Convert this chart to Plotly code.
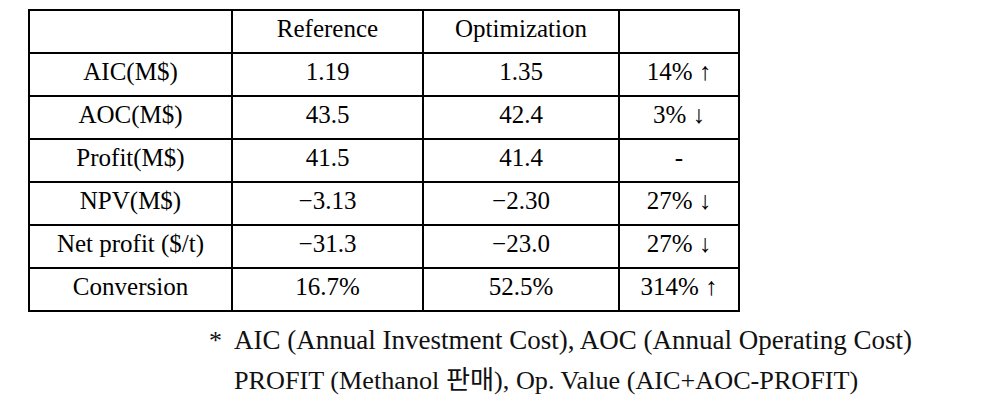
import plotly.graph_objects as go

# page body has an 8px margin, so the figure is placed at (8, 8) in the window
OFF = 8
W, H = 990 - 2 * OFF, 411 - 2 * OFF

header = ["", "Reference", "Optimization", ""]
row_labels = ["AIC(M$)", "AOC(M$)", "Profit(M$)", "NPV(M$)", "Net profit ($/t)", "Conversion"]
reference_vals = ["1.19", "43.5", "41.5", "\u22123.13", "\u221231.3", "16.7%"]
optimization_vals = ["1.35", "42.4", "41.4", "\u22122.30", "\u221223.0", "52.5%"]
change_vals = ["14% \u2191", "3% \u2193", "-", "27% \u2193", "27% \u2193", "314% \u2191"]

footnote_line1 = "AIC (Annual Investment Cost), AOC (Annual Operating Cost)"
footnote_line2 = "PROFIT (Methanol 판매), Op. Value (AIC+AOC-PROFIT)"

FONT = "Liberation Serif, Noto Sans CJK KR, serif"

x0, x1 = 29 - OFF, 739 - OFF
y0, y1 = 10 - OFF, 311 - OFF
rowh = 43

fig = go.Figure(go.Table(
    domain=dict(x=[x0 / W, x1 / W], y=[max(0, 1 - (y1 + 2) / H), 1 - y0 / H]),
    columnwidth=[203, 191, 196, 120],
    header=dict(values=header, height=rowh, align="center",
                line=dict(color="black", width=2), fill=dict(color="white"),
                font=dict(family=FONT, size=25, color="black")),
    cells=dict(values=[row_labels, reference_vals, optimization_vals, change_vals],
               height=rowh, align="center",
               line=dict(color="black", width=2), fill=dict(color="white"),
               font=dict(family=FONT, size=25, color="black")),
))

def px(x):
    return (x - OFF) / W

def py(y):
    return 1 - (y - OFF) / H

fig.add_annotation(x=px(207), y=py(340), xref="paper", yref="paper", text="*",
                   showarrow=False, xanchor="left", yanchor="middle",
                   font=dict(family=FONT, size=26, color="#111"))
fig.add_annotation(x=px(232), y=py(340), xref="paper", yref="paper", text=footnote_line1,
                   showarrow=False, xanchor="left", yanchor="middle",
                   font=dict(family=FONT, size=27, color="#111"))
fig.add_annotation(x=px(232), y=py(380), xref="paper", yref="paper", text=footnote_line2,
                   showarrow=False, xanchor="left", yanchor="middle",
                   font=dict(family=FONT, size=26.2, color="#111"))

fig.update_layout(width=W, height=H, margin=dict(l=0, r=0, t=0, b=0),
                  paper_bgcolor="white", plot_bgcolor="white", showlegend=False)
fig.write_html("out.html")
